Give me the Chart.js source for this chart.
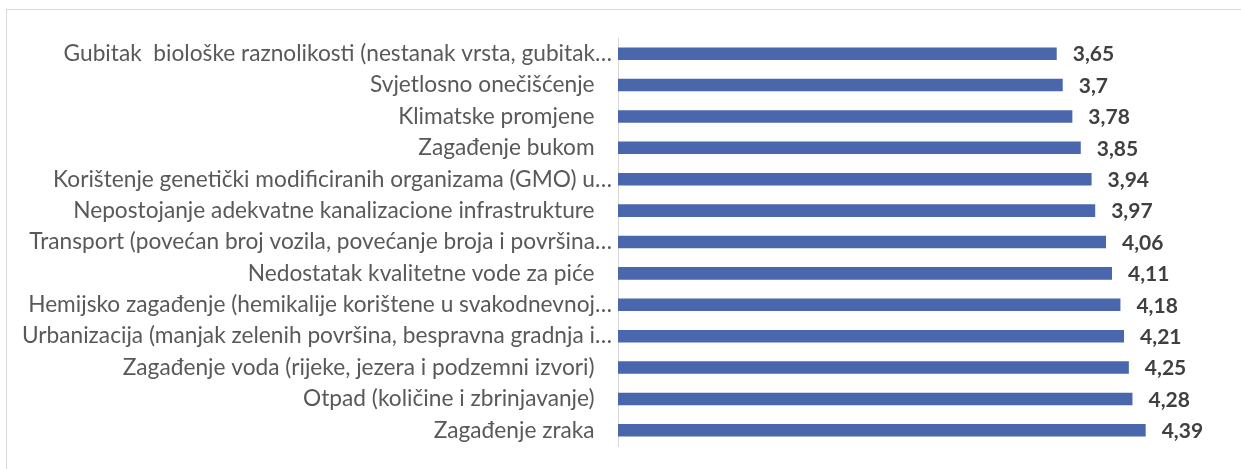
<!DOCTYPE html>
<html>
<head>
<meta charset="utf-8">
<script src="https://cdn.jsdelivr.net/npm/chart.js@4/dist/chart.umd.min.js"></script>
<style>
  body { margin: 0; background: #fff; overflow: hidden; }
  #frame { position: absolute; left: 6px; top: 9px; width: 1300px; height: 600px; border: 1px solid #d9d9d9; }
  #wrap { position: absolute; left: 0; top: 0; width: 1241px; height: 469px; }
</style>
</head>
<body>
<div id="frame"></div>
<div id="wrap"><canvas id="myChart" width="1241" height="469"></canvas></div>
<script>
// categories, top to bottom (trailing spaces as in the source labels)
const categories = [
  'Gubitak  biološke raznolikosti (nestanak vrsta, gubitak…',
  'Svjetlosno onečišćenje   ',
  'Klimatske promjene   ',
  'Zagađenje bukom   ',
  'Korištenje genetički modificiranih organizama (GMO) u…',
  'Nepostojanje adekvatne kanalizacione infrastrukture   ',
  'Transport (povećan broj vozila, povećanje broja i površina…',
  'Nedostatak kvalitetne vode za piće   ',
  'Hemijsko zagađenje (hemikalije korištene u svakodnevnoj…',
  'Urbanizacija (manjak zelenih površina, bespravna gradnja i…',
  'Zagađenje voda (rijeke, jezera i podzemni izvori)   ',
  'Otpad (količine i zbrinjavanje)   ',
  'Zagađenje zraka   '
];
const values = [3.65, 3.7, 3.78, 3.85, 3.94, 3.97, 4.06, 4.11, 4.18, 4.21, 4.25, 4.28, 4.39];

const axisMin = 0;
const axisMax = 5;

// value labels at the end of each bar
const barLabels = {
  id: 'barLabels',
  afterDatasetsDraw(chart) {
    const ctx = chart.ctx;
    const meta = chart.getDatasetMeta(0);
    ctx.save();
    ctx.font = 'bold 21px Lato';
    ctx.fillStyle = '#404040';
    ctx.textAlign = 'left';
    ctx.textBaseline = 'middle';
    meta.data.forEach((bar, i) => {
      ctx.fillText(String(values[i]).replace('.', ','), bar.x + 16, bar.y + 1);
    });
    ctx.restore();
  }
};

const ctx = document.getElementById('myChart');

new Chart(ctx, {
  type: 'bar',
  data: {
    labels: categories,
    datasets: [{
      data: values,
      backgroundColor: '#4a66ac',
      borderWidth: 0,
      barPercentage: 0.4,
      categoryPercentage: 1
    }]
  },
  options: {
    indexAxis: 'y',
    responsive: false,
    devicePixelRatio: 1,
    animation: false,
    layout: { padding: { left: 0, top: 38, right: 22, bottom: 23 } },
    plugins: {
      legend: { display: false },
      tooltip: { enabled: false }
    },
    scales: {
      x: {
        display: false,
        min: axisMin,
        max: axisMax
      },
      y: {
        grid: { display: false, drawTicks: false },
        border: { display: true, color: '#d9d9d9', width: 1 },
        ticks: {
          padding: 6,
          color: '#595959',
          font: { family: 'Lato', size: 22.7 },
          autoSkip: false
        },
        afterFit(scale) { scale.width = 618; }
      }
    }
  },
  plugins: [barLabels]
});
</script>
</body>
</html>
